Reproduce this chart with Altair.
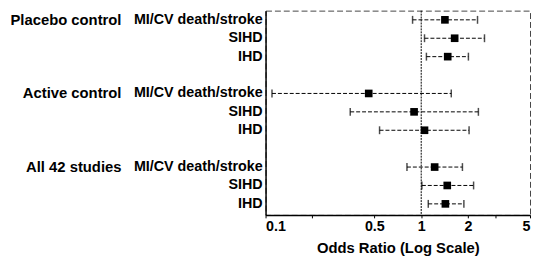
import altair as alt
import pandas as pd

groups = ["Placebo control", "Placebo control", "Placebo control",
          "Active control", "Active control", "Active control",
          "All 42 studies", "All 42 studies", "All 42 studies"]
outcomes = ["MI/CV death/stroke", "SIHD", "IHD"] * 3
rows = [0, 1, 2, 4, 5, 6, 8, 9, 10]
odds = [1.42, 1.64, 1.48, 0.46, 0.90, 1.05, 1.22, 1.47, 1.43]
lower = [0.88, 1.05, 1.08, 0.11, 0.35, 0.54, 0.81, 1.01, 1.11]
upper = [2.30, 2.55, 2.01, 1.56, 2.33, 2.03, 1.84, 2.17, 1.88]
tick_values = [0.1, 0.2, 0.5, 1, 2, 3, 5]
tick_labels = ["0.1", "", "0.5", "1", "2", "", "5"]

df = pd.DataFrame({"group": groups, "outcome": outcomes, "row": rows,
                   "or": odds, "lo": lower, "hi": upper})
df["glabel"] = [g if o == "MI/CV death/stroke" else "" for g, o in zip(groups, outcomes)]

FONT = "Liberation Sans"
FS = 14.5
label_expr = " : ".join([f"datum.value == {v} ? '{l}'" for v, l in zip(tick_values, tick_labels)]) + " : ''"

xs = alt.Scale(type="log", domain=[0.1, 5], nice=False)
ys = alt.Scale(domain=[-0.5, 10.6], reverse=True, nice=False, zero=False)

base = alt.Chart(df)

xaxis = alt.Axis(values=tick_values, labelExpr=label_expr, title="Odds Ratio (Log Scale)",
                 grid=False, tickSize=3, tickColor="black", domainColor="black",
                 domainWidth=1.5, labelFont=FONT, labelFontWeight="bold", labelFontSize=FS,
                 labelColor="black", titleFont=FONT, titleFontWeight="bold",
                 titleFontSize=15, titleColor="black", titlePadding=8, labelPadding=2)
yaxis = alt.Axis(labels=False, ticks=False, title=None, grid=False,
                 domainColor="black", domainWidth=1.5)

bars = base.mark_rule(color="black", strokeWidth=1, strokeDash=[4, 2]).encode(
    x=alt.X("lo:Q", scale=xs, axis=xaxis),
    x2="hi:Q",
    y=alt.Y("row:Q", scale=ys, axis=yaxis),
)

caps = base.transform_fold(["lo", "hi"], as_=["end", "val"]).mark_tick(
    color="black", orient="vertical", size=8, thickness=1.5
).encode(
    x=alt.X("val:Q", scale=xs),
    y=alt.Y("row:Q", scale=ys),
)

points = base.mark_square(color="black", size=60, opacity=1).encode(
    x=alt.X("or:Q", scale=xs),
    y=alt.Y("row:Q", scale=ys),
)

ref = alt.Chart(pd.DataFrame({"v": [1]})).mark_rule(
    color="black", strokeWidth=1, strokeDash=[2, 1]
).encode(x=alt.X("v:Q", scale=xs))

sub_labels = base.mark_text(align="right", baseline="middle", font=FONT,
                            fontWeight="bold", fontSize=FS, color="black").encode(
    x=alt.value(-3),
    y=alt.Y("row:Q", scale=ys),
    text="outcome:N",
)

group_labels = base.mark_text(align="right", baseline="middle", font=FONT,
                              fontWeight="bold", fontSize=15, color="black").encode(
    x=alt.value(-146),
    y=alt.Y("row:Q", scale=ys),
    text="glabel:N",
)

chart = alt.layer(bars, caps, ref, points, sub_labels, group_labels).properties(
    width=268, height=207, padding={"left": 2, "top": 0, "right": 0, "bottom": 0}
).configure_view(stroke="#444", strokeWidth=1, strokeDash=[6, 3])

chart.save("out.html", embed_options={"renderer": "svg", "actions": False})
